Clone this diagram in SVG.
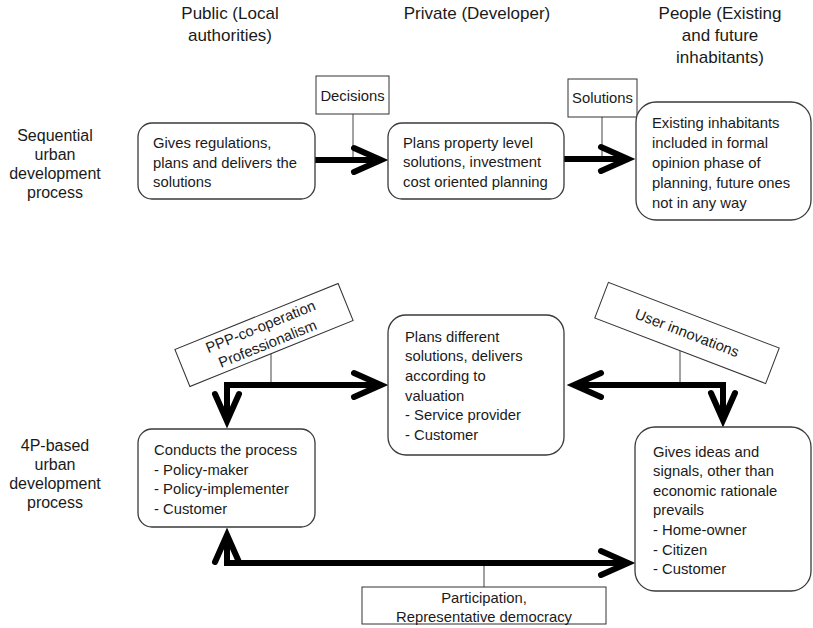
<svg xmlns="http://www.w3.org/2000/svg" width="813" height="628" viewBox="0 0 813 628">
<style>
text{font-family:"Liberation Sans",Arial,sans-serif;fill:#1a1a1a}
.t{font-size:14.8px}
.c{text-anchor:middle}
.h{font-size:17px;text-anchor:middle}
.s{font-size:16px;text-anchor:middle}
.node rect{fill:#fff;stroke:#3a3a3a;stroke-width:1.3}
.lbl rect{fill:#fff;stroke:#333;stroke-width:1}
.conn{fill:none;stroke:#000;stroke-width:6;stroke-linejoin:miter}
.thin{fill:none;stroke:#444;stroke-width:1}
</style>
<defs>
<marker id="ah" markerUnits="userSpaceOnUse" orient="auto-start-reverse" markerWidth="40" markerHeight="40" viewBox="-35 -20 40 40" refX="0" refY="0" overflow="visible">
<path d="M-27,-12 L0,0 L-27,12" fill="none" stroke="#000" stroke-width="6" stroke-linecap="round"/>
</marker>
</defs>
<rect width="813" height="628" fill="#fff"/>

<g id="headers">
<text class="h" x="230" y="19">Public (Local</text>
<text class="h" x="230" y="40.5">authorities)</text>
<text class="h" x="477" y="19">Private (Developer)</text>
<text class="h" x="720" y="19">People (Existing</text>
<text class="h" x="720" y="41">and future</text>
<text class="h" x="720" y="63">inhabitants)</text>
</g>

<g id="side-labels">
<text class="s" x="55" y="140.5">Sequential</text>
<text class="s" x="55" y="160">urban</text>
<text class="s" x="55" y="179">development</text>
<text class="s" x="55" y="198">process</text>
<text class="s" x="55" y="450.5">4P-based</text>
<text class="s" x="55" y="470">urban</text>
<text class="s" x="55" y="489">development</text>
<text class="s" x="55" y="508">process</text>
</g>

<g id="connectors">
<line class="thin" x1="353" y1="114" x2="353" y2="160"/>
<line class="thin" x1="602" y1="117" x2="602" y2="159"/>
<line class="thin" x1="271" y1="353" x2="271" y2="385"/>
<line class="thin" x1="680" y1="351" x2="680" y2="385"/>
<line class="thin" x1="484" y1="563" x2="484" y2="587"/>
<path class="conn" d="M315,160 H381" marker-end="url(#ah)"/>
<path class="conn" d="M564,159 H628" marker-end="url(#ah)"/>
<path class="conn" d="M381,385 H227 V421" marker-start="url(#ah)" marker-end="url(#ah)"/>
<path class="conn" d="M574,385 H723 V420" marker-start="url(#ah)" marker-end="url(#ah)"/>
<path class="conn" d="M227,535 V563 H628" marker-start="url(#ah)" marker-end="url(#ah)"/>
</g>

<g id="decisions" class="lbl">
<rect x="316" y="76" width="73" height="38"/>
<text class="t c" x="352.5" y="100.5">Decisions</text>
</g>
<g id="solutions" class="lbl">
<rect x="568" y="79" width="69" height="38"/>
<text class="t c" x="602.5" y="103">Solutions</text>
</g>

<g id="public-seq" class="node">
<rect x="138" y="123" width="177" height="76" rx="14"/>
<text class="t" x="153" y="148">Gives regulations,</text>
<text class="t" x="153" y="167.5">plans and delivers the</text>
<text class="t" x="153" y="187">solutions</text>
</g>

<g id="private-seq" class="node">
<rect x="388" y="123" width="176" height="76" rx="14"/>
<text class="t" x="403" y="147.5">Plans property level</text>
<text class="t" x="403" y="167">solutions, investment</text>
<text class="t" x="403" y="187">cost oriented planning</text>
</g>

<g id="people-seq" class="node">
<rect x="636" y="102" width="175" height="118" rx="20"/>
<text class="t" x="652" y="128">Existing inhabitants</text>
<text class="t" x="652" y="148">included in formal</text>
<text class="t" x="652" y="168">opinion phase of</text>
<text class="t" x="652" y="188">planning, future ones</text>
<text class="t" x="652" y="207.5">not in any way</text>
</g>

<g id="ppp" class="lbl" transform="translate(264,335) rotate(-22)">
<rect x="-88" y="-20" width="176" height="40"/>
<text class="t c" x="0" y="-4">PPP-co-operation</text>
<text class="t c" x="0" y="14.5">Professionalism</text>
</g>

<g id="user-innovations" class="lbl" transform="translate(687,333) rotate(21)">
<rect x="-91.5" y="-19" width="183" height="38"/>
<text class="t c" x="0" y="5">User innovations</text>
</g>

<g id="private-4p" class="node">
<rect x="388" y="315" width="176" height="140" rx="18"/>
<text class="t" x="405" y="341.5">Plans different</text>
<text class="t" x="405" y="361">solutions, delivers</text>
<text class="t" x="405" y="381">according to</text>
<text class="t" x="405" y="400.5">valuation</text>
<text class="t" x="405" y="420">- Service provider</text>
<text class="t" x="405" y="439.5">- Customer</text>
</g>

<g id="public-4p" class="node">
<rect x="138" y="429" width="177" height="98" rx="14"/>
<text class="t" x="154" y="455">Conducts the process</text>
<text class="t" x="154" y="474.5">- Policy-maker</text>
<text class="t" x="154" y="494">- Policy-implementer</text>
<text class="t" x="154" y="513.5">- Customer</text>
</g>

<g id="people-4p" class="node">
<rect x="635" y="427" width="176" height="164" rx="20"/>
<text class="t" x="653" y="456.5">Gives ideas and</text>
<text class="t" x="653" y="476">signals, other than</text>
<text class="t" x="653" y="495.5">economic rationale</text>
<text class="t" x="653" y="515">prevails</text>
<text class="t" x="653" y="535">- Home-owner</text>
<text class="t" x="653" y="554.5">- Citizen</text>
<text class="t" x="653" y="574">- Customer</text>
</g>

<g id="participation" class="lbl">
<rect x="362" y="587" width="244" height="37"/>
<text class="t c" x="484" y="602.5">Participation,</text>
<text class="t c" x="484" y="621.5">Representative democracy</text>
</g>
</svg>
